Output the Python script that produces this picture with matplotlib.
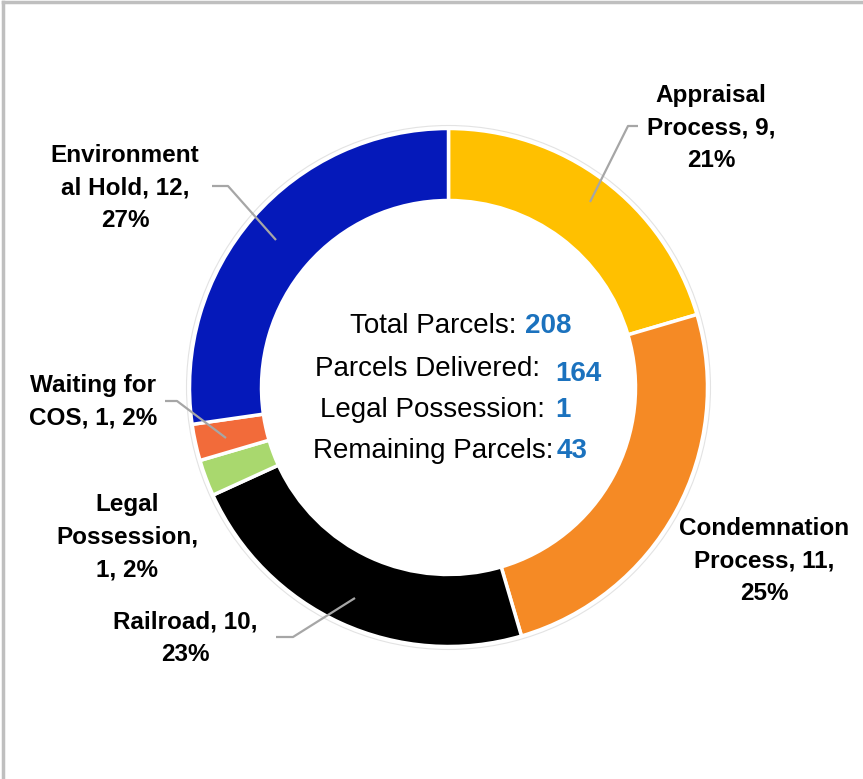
import matplotlib.pyplot as plt
from matplotlib.patches import Circle

W, H = 863, 779

# remaining parcels by status
categories = ["Appraisal Process", "Condemnation Process", "Railroad",
              "Legal Possession", "Waiting for COS", "Environmental Hold"]
counts = [9, 11, 10, 1, 1, 12]
percents = [21, 25, 23, 2, 2, 27]
colors = ["#FFC000", "#F58A25", "#000000", "#A9D86E", "#F26B3A", "#0519BA"]

label_fmt = ["Appraisal\nProcess, {n},\n{p}%",
             "Condemnation\nProcess, {n},\n{p}%",
             "Railroad, {n},\n{p}%",
             "Legal\nPossession,\n{n}, {p}%",
             "Waiting for\nCOS, {n}, {p}%",
             "Environment\nal Hold, {n},\n{p}%"]
label_pos = [(711, 128), (764, 561), (185, 638), (127, 537), (93, 402), (125, 188)]

# leader lines (pixel coords, y down)
leaders = {
    0: [(590, 202), (628, 126), (638, 126)],
    2: [(276, 637), (293, 637), (355, 598)],
    4: [(165, 401), (177, 401), (226, 438)],
    5: [(212, 186), (228, 186), (276, 240)],
}

center_labels = ["Total Parcels:", "Parcels Delivered:", "Legal Possession:", "Remaining Parcels:"]
center_values = ["208", "164", "1", "43"]
center_label_end = [516, 540, 545, 553]
center_value_start = [525, 555, 555, 557]
center_y = [326, 369, 410, 451]
center_value_y = [326, 374, 410, 451]

font = ["Liberation Sans Narrow", "Liberation Sans", "DejaVu Sans"]
plt.rcParams["font.family"] = font

fig = plt.figure(figsize=(W / 100, H / 100), dpi=100)
ax = fig.add_axes([0, 0, 1, 1])


def fy(y):
    return H - y


cx, cy, R = 448.5, fy(387.5), 259
ax.pie(counts, colors=colors, startangle=90, counterclock=False,
       center=(cx, cy), radius=R,
       wedgeprops=dict(width=72, edgecolor="white", linewidth=2.5))
ax.add_patch(Circle((cx, cy), R + 3, fill=False, edgecolor="#E3E3E3", lw=0.8))

for i, fmt in enumerate(label_fmt):
    x, y = label_pos[i]
    ax.text(x, fy(y), fmt.format(n=counts[i], p=percents[i]), ha="center", va="center",
            fontsize=17.5, fontweight="bold", linespacing=1.55)

for pts in leaders.values():
    ax.plot([p[0] for p in pts], [fy(p[1]) for p in pts], color="#A6A6A6", lw=1.6,
            solid_capstyle="butt")

for lab, val, xe, xs, y, yv in zip(center_labels, center_values, center_label_end,
                                   center_value_start, center_y, center_value_y):
    ax.text(xe, fy(y), lab, ha="right", va="center", fontsize=20, color="black")
    ax.text(xs, fy(yv), val, ha="left", va="center", fontsize=20, fontweight="bold",
            color="#1B72BE")

# panel frame, only top and left edges show
ax.plot([3, 3], [fy(2), fy(H)], color="#BFBFBF", lw=2.5)
ax.plot([3, W], [fy(2), fy(2)], color="#BFBFBF", lw=2.5)

ax.set_xlim(0, W)
ax.set_ylim(0, H)
ax.set_aspect("auto")
ax.set_axis_off()

fig.savefig("out.png", dpi=100)
